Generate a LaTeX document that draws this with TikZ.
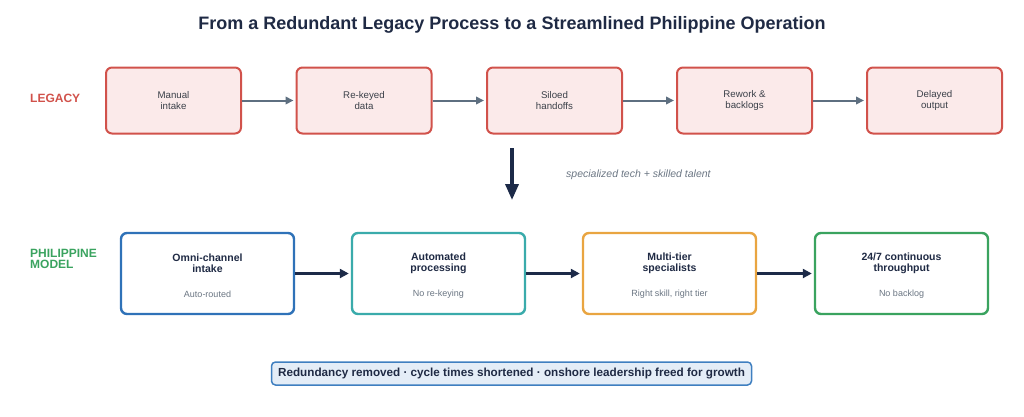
\documentclass[tikz,border=0pt]{standalone}
\usepackage{fontspec}
\setmainfont{Liberation Sans}
\usetikzlibrary{arrows.meta}

\newlength{\du}
\setlength{\du}{1pt}

\definecolor{titlecolor}{HTML}{1F2A44}
\definecolor{legacyred}{HTML}{D1524B}
\definecolor{legacyfill}{HTML}{FBEAEA}
\definecolor{legacytext}{HTML}{3B4049}
\definecolor{flowgray}{HTML}{5E6F80}
\definecolor{navy}{HTML}{1C2A48}
\definecolor{notegray}{HTML}{6B7683}
\definecolor{phblue}{HTML}{2F72B8}
\definecolor{phteal}{HTML}{3AABAB}
\definecolor{phorange}{HTML}{E9A541}
\definecolor{phgreen}{HTML}{3AA35F}
\definecolor{bannerfill}{HTML}{E4EDF7}
\definecolor{bannerline}{HTML}{3F7FC0}

\tikzset{
  legacybox/.style={draw=legacyred, fill=legacyfill, line width=2\du,
    rounded corners=6\du, minimum width=135\du, minimum height=66\du,
    inner sep=0pt, align=center, text=legacytext,
    font=\fontsize{9.7}{10.5}\selectfont},
  phbox/.style={draw=#1, fill=white, line width=2.4\du,
    rounded corners=6\du, minimum width=173\du, minimum height=81\du,
    inner sep=0pt},
  phtitle/.style={align=center, text=titlecolor, inner sep=0pt,
    font=\bfseries\fontsize{10.5}{10.8}\selectfont},
  phsub/.style={text=notegray, inner sep=0pt,
    font=\fontsize{9}{9}\selectfont},
  rowlabel/.style={anchor=west, align=left, inner sep=0pt,
    font=\bfseries\fontsize{12}{11.5}\selectfont},
  legacyarrow/.style={draw=flowgray, line width=2\du, shorten >=2\du,
    -{Triangle[length=8pt,width=7.5pt]}},
  pharrow/.style={draw=navy, line width=2.4\du, shorten >=2\du,
    -{Triangle[length=9pt,width=9pt]}},
  droparrow/.style={draw=navy, line width=3.5\du,
    -{Triangle[length=16pt,width=13pt]}}
}

\begin{document}
\begin{tikzpicture}
\pgftransformxscale{1.000000}
\pgftransformyscale{-1.000000}
\useasboundingbox (0\du,0\du) rectangle (1024\du,416\du);

\node[text=titlecolor, font=\bfseries\fontsize{18}{18}\selectfont] (title) at (512\du,25\du)
  {From a Redundant Legacy Process to a Streamlined Philippine Operation};

% legacy row
\node[rowlabel, text=legacyred] (legacylabel) at (30\du,98\du) {LEGACY};
\node[legacybox] (manual) at (173.5\du,100.5\du) {Manual\\intake};
\node[legacybox] (rekeyed) at (364\du,100.5\du) {Re-keyed\\data};
\node[legacybox] (siloed) at (554.5\du,100.5\du) {Siloed\\handoffs};
\node[legacybox] (rework) at (744.5\du,100.5\du) {Rework \&\\backlogs};
\node[legacybox] (delayed) at (934.5\du,100.5\du) {Delayed\\output};
\draw[legacyarrow] (manual.east) -- (rekeyed.west);
\draw[legacyarrow] (rekeyed.east) -- (siloed.west);
\draw[legacyarrow] (siloed.east) -- (rework.west);
\draw[legacyarrow] (rework.east) -- (delayed.west);

% transition
\coordinate (dropTop) at (512\du,148\du);
\coordinate (dropEnd) at (512\du,200\du);
\draw[droparrow] (dropTop) -- (dropEnd);
\node[anchor=west, inner sep=0pt, text=notegray, font=\itshape\fontsize{10.5}{10.5}\selectfont]
  (dropnote) at (566\du,175\du) {specialized tech + skilled talent};

% philippine row
\node[rowlabel, text=phgreen] (phlabel) at (30\du,259\du) {PHILIPPINE\\MODEL};
\node[phbox=phblue] (omni) at (207.5\du,273.5\du) {};
\node[phtitle] (omniT) at (207.5\du,263\du) {Omni-channel\\intake};
\node[phsub] (omniS) at (207.5\du,294.5\du) {Auto-routed};
\node[phbox=phteal] (auto) at (438.5\du,273.5\du) {};
\node[phtitle] (autoT) at (438.5\du,263\du) {Automated\\processing};
\node[phsub] (autoS) at (438.5\du,294.5\du) {No re-keying};
\node[phbox=phorange] (tier) at (669.5\du,273.5\du) {};
\node[phtitle] (tierT) at (669.5\du,263\du) {Multi-tier\\specialists};
\node[phsub] (tierS) at (669.5\du,294.5\du) {Right skill, right tier};
\node[phbox=phgreen] (round) at (901.5\du,273.5\du) {};
\node[phtitle] (roundT) at (901.5\du,263\du) {24/7 continuous\\throughput};
\node[phsub] (roundS) at (901.5\du,294.5\du) {No backlog};
\draw[pharrow] (omni.east) -- (auto.west);
\draw[pharrow] (auto.east) -- (tier.west);
\draw[pharrow] (tier.east) -- (round.west);

% outcome
\node[draw=bannerline, fill=bannerfill, line width=1.5\du, rounded corners=4\du,
  minimum width=480\du, minimum height=23\du, inner sep=0pt, text=titlecolor,
  font=\bfseries\fontsize{11.7}{11.7}\selectfont] (banner) at (511.5\du,373.5\du)
  {Redundancy removed · cycle times shortened · onshore leadership freed for growth};
\end{tikzpicture}
\end{document}
